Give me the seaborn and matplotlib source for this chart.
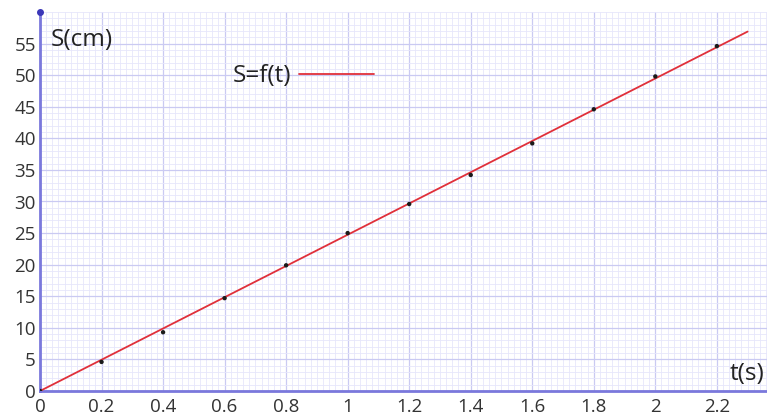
import matplotlib
matplotlib.use("Agg")
import matplotlib.pyplot as plt
import numpy as np
import pandas as pd
import seaborn as sns
from matplotlib.ticker import MultipleLocator

# Measured positions S (cm) against time t (s)
t_values = [0, 0.2, 0.4, 0.6, 0.8, 1.0, 1.2, 1.4, 1.6, 1.8, 2.0, 2.2]
s_values = [0, 4.6, 9.3, 14.7, 19.9, 25.0, 29.6, 34.2, 39.2, 44.6, 49.8, 54.6]

# Fitted straight line S = f(t)
fit_t = [0, 2.3]
fit_s = [0, 56.9]

x_ticks = [0, 0.2, 0.4, 0.6, 0.8, 1, 1.2, 1.4, 1.6, 1.8, 2, 2.2]
x_tick_labels = ["0", "0.2", "0.4", "0.6", "0.8", "1", "1.2", "1.4", "1.6", "1.8", "2", "2.2"]
y_ticks = [0, 5, 10, 15, 20, 25, 30, 35, 40, 45, 50, 55]

points = pd.DataFrame({"t": t_values, "S": s_values})
fit = pd.DataFrame({"t": fit_t, "S": fit_s})

sns.set_theme(style="white")
plt.rcParams["font.family"] = ["Open Sans", "DejaVu Sans"]

W, H = 767, 419
fig = plt.figure(figsize=(W / 100, H / 100), dpi=100)
ax = fig.add_axes([40 / W, (H - 391) / H, (W - 40) / W, (391 - 12) / H])

axis_blue = "#7a78dc"
major_grid = "#cacaf2"
minor_grid = "#e6e6fb"
red = "#e0303a"

sns.lineplot(data=fit, x="t", y="S", ax=ax, color=red, linewidth=1.3,
             label="S=f(t)", zorder=3)
sns.scatterplot(data=points, x="t", y="S", ax=ax, color="#1a1a1a", s=10,
                edgecolor="none", zorder=4, legend=False)

ax.set_xlim(0, 2.363)
ax.set_ylim(0, 60)
ax.set_xticks(x_ticks)
ax.set_xticklabels(x_tick_labels)
ax.set_yticks(y_ticks)
ax.xaxis.set_minor_locator(MultipleLocator(0.02))
ax.yaxis.set_minor_locator(MultipleLocator(1))
ax.grid(which="minor", color=minor_grid, linewidth=0.6)
ax.grid(which="major", color=major_grid, linewidth=0.9)
ax.set_axisbelow(True)

ax.tick_params(axis="both", which="both", length=0, labelsize=13.5,
               labelcolor="#333333")
ax.tick_params(axis="x", pad=5)
ax.tick_params(axis="y", pad=3)

for side in ("top", "right"):
    ax.spines[side].set_visible(False)
for side in ("left", "bottom"):
    ax.spines[side].set_color(axis_blue)
    ax.spines[side].set_linewidth(2)

ax.set_xlabel("")
ax.set_ylabel("")
ax.text(0.015, 0.925, "S(cm)", transform=ax.transAxes, fontsize=17.5,
        color="#222222", ha="left", va="center")
ax.text(0.997, 0.045, "t(s)", transform=ax.transAxes, fontsize=17.5,
        color="#222222", ha="right", va="center")

# top end of the vertical axis
ax.plot([0], [1], marker="o", markersize=4, color="#3b37b8",
        transform=ax.transAxes, clip_on=False, zorder=5)

leg = ax.legend(loc="center left", bbox_to_anchor=(0.235, 0.83),
                frameon=False, markerfirst=False, handlelength=3.1,
                handletextpad=0.3, fontsize=17.5)
for txt in leg.get_texts():
    txt.set_color("#222222")

fig.savefig("out.png", dpi=100)
